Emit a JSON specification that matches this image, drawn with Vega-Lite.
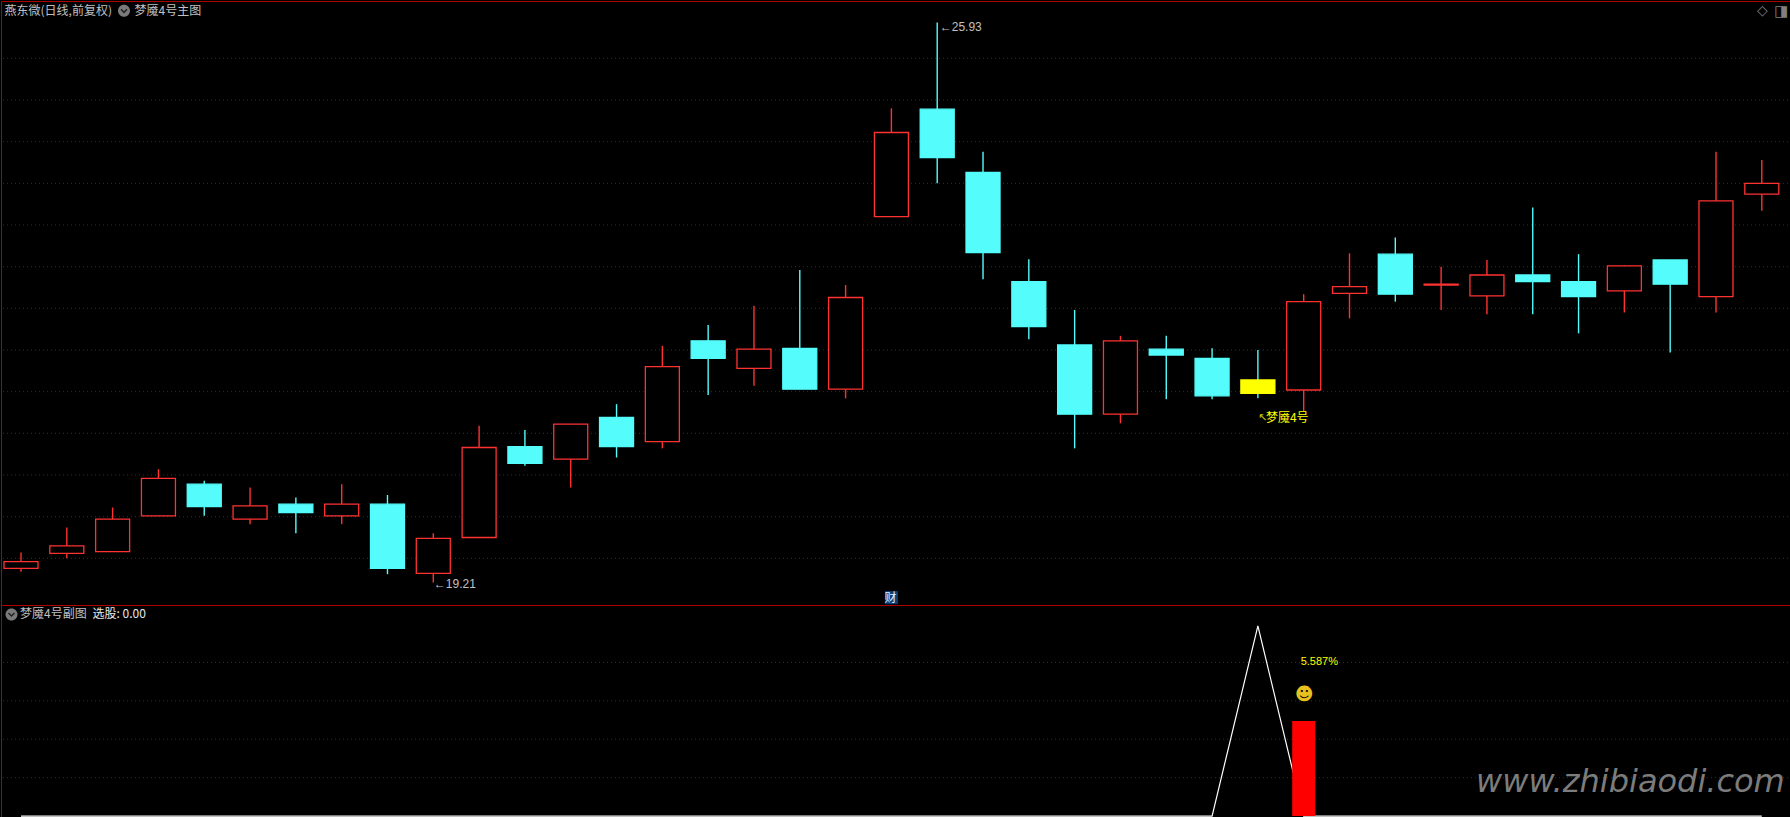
{"$schema":"https://vega.github.io/schema/vega-lite/v6.json","background":"#000000","padding":0,"bounds":"flush","spacing":0,"config":{"view":{"stroke":"#b00000","fill":"#000000"},"text":{"font":"Noto Sans CJK SC"}},"datasets":{"candles":[{"i":0,"high":19.57,"open":19.38,"close":19.46,"low":19.34,"kind":"up"},{"i":1,"high":19.87,"open":19.56,"close":19.65,"low":19.5,"kind":"up"},{"i":2,"high":20.11,"open":19.58,"close":19.97,"low":19.58,"kind":"up"},{"i":3,"high":20.57,"open":20.01,"close":20.46,"low":20.01,"kind":"up"},{"i":4,"high":20.43,"open":20.39,"close":20.12,"low":20.01,"kind":"down"},{"i":5,"high":20.35,"open":19.97,"close":20.13,"low":19.91,"kind":"up"},{"i":6,"high":20.23,"open":20.15,"close":20.05,"low":19.8,"kind":"down"},{"i":7,"high":20.39,"open":20.01,"close":20.15,"low":19.91,"kind":"up"},{"i":8,"high":20.26,"open":20.15,"close":19.38,"low":19.31,"kind":"down"},{"i":9,"high":19.8,"open":19.32,"close":19.74,"low":19.21,"kind":"up"},{"i":10,"high":21.09,"open":19.75,"close":20.83,"low":19.75,"kind":"up"},{"i":11,"high":21.04,"open":20.84,"close":20.64,"low":20.61,"kind":"down"},{"i":12,"high":21.11,"open":20.69,"close":21.11,"low":20.35,"kind":"up"},{"i":13,"high":21.35,"open":21.19,"close":20.84,"low":20.71,"kind":"down"},{"i":14,"high":22.05,"open":20.9,"close":21.8,"low":20.82,"kind":"up"},{"i":15,"high":22.3,"open":22.11,"close":21.9,"low":21.46,"kind":"down"},{"i":16,"high":22.53,"open":21.78,"close":22.01,"low":21.57,"kind":"up"},{"i":17,"high":22.96,"open":22.02,"close":21.53,"low":21.53,"kind":"down"},{"i":18,"high":22.78,"open":21.53,"close":22.63,"low":21.42,"kind":"up"},{"i":19,"high":24.9,"open":23.6,"close":24.61,"low":23.6,"kind":"up"},{"i":20,"high":25.93,"open":24.89,"close":24.31,"low":24.0,"kind":"down"},{"i":21,"high":24.38,"open":24.13,"close":23.17,"low":22.85,"kind":"down"},{"i":22,"high":23.09,"open":22.82,"close":22.28,"low":22.13,"kind":"down"},{"i":23,"high":22.48,"open":22.06,"close":21.23,"low":20.82,"kind":"down"},{"i":24,"high":22.17,"open":21.23,"close":22.11,"low":21.12,"kind":"up"},{"i":25,"high":22.17,"open":22.01,"close":21.94,"low":21.41,"kind":"down"},{"i":26,"high":22.02,"open":21.9,"close":21.45,"low":21.41,"kind":"down"},{"i":27,"high":22.0,"open":21.64,"close":21.48,"low":21.42,"kind":"signal"},{"i":28,"high":22.67,"open":21.52,"close":22.58,"low":21.26,"kind":"up"},{"i":29,"high":23.16,"open":22.68,"close":22.76,"low":22.38,"kind":"up"},{"i":30,"high":23.35,"open":23.15,"close":22.67,"low":22.58,"kind":"down"},{"i":31,"high":23.0,"open":22.78,"close":22.79,"low":22.48,"kind":"up"},{"i":32,"high":23.08,"open":22.65,"close":22.9,"low":22.43,"kind":"up"},{"i":33,"high":23.71,"open":22.9,"close":22.82,"low":22.43,"kind":"down"},{"i":34,"high":23.15,"open":22.82,"close":22.64,"low":22.2,"kind":"down"},{"i":35,"high":23.02,"open":22.71,"close":23.01,"low":22.45,"kind":"up"},{"i":36,"high":23.08,"open":23.08,"close":22.79,"low":21.97,"kind":"down"},{"i":37,"high":24.38,"open":22.64,"close":23.79,"low":22.45,"kind":"up"},{"i":38,"high":24.28,"open":23.87,"close":24.0,"low":23.67,"kind":"up"}],"indicator":[{"i":0,"v":0},{"i":1,"v":0},{"i":2,"v":0},{"i":3,"v":0},{"i":4,"v":0},{"i":5,"v":0},{"i":6,"v":0},{"i":7,"v":0},{"i":8,"v":0},{"i":9,"v":0},{"i":10,"v":0},{"i":11,"v":0},{"i":12,"v":0},{"i":13,"v":0},{"i":14,"v":0},{"i":15,"v":0},{"i":16,"v":0},{"i":17,"v":0},{"i":18,"v":0},{"i":19,"v":0},{"i":20,"v":0},{"i":21,"v":0},{"i":22,"v":0},{"i":23,"v":0},{"i":24,"v":0},{"i":25,"v":0},{"i":26,"v":0},{"i":27,"v":9.9},{"i":28,"v":0},{"i":29,"v":0},{"i":30,"v":0},{"i":31,"v":0},{"i":32,"v":0},{"i":33,"v":0},{"i":34,"v":0},{"i":35,"v":0},{"i":36,"v":0},{"i":37,"v":0},{"i":38,"v":0}]},"vconcat":[{"width":1789,"height":604,"encoding":{"x":{"field":"i","type":"ordinal","axis":null,"scale":{"type":"band","domain":[0,1,2,3,4,5,6,7,8,9,10,11,12,13,14,15,16,17,18,19,20,21,22,23,24,25,26,27,28,29,30,31,32,33,34,35,36,37,38],"range":[-2.9,1783.7],"paddingInner":0,"paddingOuter":0,"round":false}},"y":{"field":"price","type":"quantitative","axis":null,"scale":{"domain":[18.94,26.188],"nice":false,"zero":false}}},"layer":[{"data":{"values":[{"price":25.5},{"price":25},{"price":24.5},{"price":24},{"price":23.5},{"price":23},{"price":22.5},{"price":22},{"price":21.5},{"price":21},{"price":20.5},{"price":20},{"price":19.5}]},"mark":{"type":"rule","color":"#a00000","strokeDash":[1,3],"strokeWidth":1},"encoding":{"x":{"value":2},"x2":{"value":1788}}},{"data":{"name":"candles"},"mark":{"type":"rule","strokeWidth":1.4},"encoding":{"y":{"field":"high","type":"quantitative"},"y2":{"field":"low"},"color":{"field":"kind","type":"nominal","legend":null,"scale":{"domain":["up","down","signal"],"range":["#ff3232","#54fcfc","#54fcfc"]}}}},{"data":{"name":"candles"},"mark":{"type":"bar","size":34,"strokeWidth":1.3},"encoding":{"y":{"field":"open","type":"quantitative"},"y2":{"field":"close"},"fill":{"field":"kind","type":"nominal","legend":null,"scale":{"domain":["up","down","signal"],"range":["#000000","#54fcfc","#ffff00"]}},"stroke":{"field":"kind","type":"nominal","legend":null,"scale":{"domain":["up","down","signal"],"range":["#ff3232","#54fcfc","#ffff00"]}}}},{"data":{"values":[{"i":0,"price":26.07,"label":"燕东微(日线,前复权)"}]},"mark":{"type":"text","align":"left","baseline":"middle","dx":-16.5,"fontSize":12,"color":"#c0c0c0"},"encoding":{"text":{"field":"label"}}},{"data":{"values":[{"i":0,"price":26.07}]},"mark":{"type":"point","filled":true,"size":4,"shape":"M97,0a6,6 0 1,0 12,0a6,6 0 1,0 -12,0Z","color":"#7a7a7a","opacity":1},"encoding":{}},{"data":{"values":[{"i":0,"price":26.07}]},"mark":{"type":"point","filled":false,"size":4,"shape":"M100,-1.5L103,1.5L106,-1.5","color":"#222222","strokeWidth":1.5,"opacity":1},"encoding":{}},{"data":{"values":[{"i":0,"price":26.07,"label":"梦魇4号主图"}]},"mark":{"type":"text","align":"left","baseline":"middle","dx":113.5,"fontSize":12,"color":"#c0c0c0"},"encoding":{"text":{"field":"label"}}},{"data":{"values":[{"i":38,"price":26.07,"label":"◇"}]},"mark":{"type":"text","align":"center","baseline":"middle","dx":0.5,"font":"DejaVu Sans","fontSize":14,"color":"#808080"},"encoding":{"text":{"field":"label"}}},{"data":{"values":[{"i":38,"price":26.07,"label":"◨"}]},"mark":{"type":"text","align":"center","baseline":"middle","dx":19.5,"font":"DejaVu Sans","fontSize":15,"color":"#808080"},"encoding":{"text":{"field":"label"}}},{"data":{"values":[{"i":20,"price":25.876,"label":"←25.93"}]},"mark":{"type":"text","align":"left","baseline":"middle","dx":2.5,"font":"Liberation Sans","fontSize":12,"color":"#c0c0c0"},"encoding":{"text":{"field":"label"}}},{"data":{"values":[{"i":9,"price":19.19,"label":"←19.21"}]},"mark":{"type":"text","align":"left","baseline":"middle","dx":0.5,"font":"Liberation Sans","fontSize":12,"color":"#c0c0c0"},"encoding":{"text":{"field":"label"}}},{"data":{"values":[{"i":27,"price":21.18,"label":"↖"}]},"mark":{"type":"text","align":"left","baseline":"middle","dx":0,"font":"DejaVu Sans","fontSize":11,"color":"#c8c800"},"encoding":{"text":{"field":"label"}}},{"data":{"values":[{"i":27,"price":21.18,"label":"梦魇4号"}]},"mark":{"type":"text","align":"left","baseline":"middle","dx":8,"fontSize":12,"color":"#ffff00"},"encoding":{"text":{"field":"label"}}},{"data":{"values":[{"i":19,"high":19.107,"low":18.95}]},"mark":{"type":"bar","size":13,"color":"#0a3f78"},"encoding":{"y":{"field":"high","type":"quantitative"},"y2":{"field":"low"}}},{"data":{"values":[{"i":19,"price":19.03,"label":"财"}]},"mark":{"type":"text","align":"center","baseline":"middle","dx":-1,"fontSize":12,"color":"#e0f0ff"},"encoding":{"text":{"field":"label"}}}]},{"width":1789,"height":213,"encoding":{"x":{"field":"i","type":"ordinal","axis":null,"scale":{"type":"band","domain":[0,1,2,3,4,5,6,7,8,9,10,11,12,13,14,15,16,17,18,19,20,21,22,23,24,25,26,27,28,29,30,31,32,33,34,35,36,37,38],"range":[-2.9,1783.7],"paddingInner":0,"paddingOuter":0,"round":false}},"y":{"field":"v","type":"quantitative","axis":null,"scale":{"domain":[-0.1,10.99],"nice":false,"zero":false}}},"layer":[{"data":{"values":[{"v":2},{"v":4},{"v":6},{"v":8}]},"mark":{"type":"rule","color":"#a00000","strokeDash":[1,3],"strokeWidth":1},"encoding":{"x":{"value":2},"x2":{"value":1788}}},{"data":{"name":"indicator"},"mark":{"type":"line","color":"#ffffff","strokeWidth":1.2},"encoding":{}},{"data":{"values":[{"i":28,"v":4.95}]},"mark":{"type":"bar","size":23,"color":"#ff0000"},"encoding":{}},{"data":{"values":[{"i":0,"v":10.5}]},"mark":{"type":"point","filled":true,"size":4,"shape":"M-15.5,0a6,6 0 1,0 12,0a6,6 0 1,0 -12,0Z","color":"#7a7a7a","opacity":1},"encoding":{}},{"data":{"values":[{"i":0,"v":10.5}]},"mark":{"type":"point","filled":false,"size":4,"shape":"M-12.5,-1.5L-9.5,1.5L-6.5,-1.5","color":"#222222","strokeWidth":1.5,"opacity":1},"encoding":{}},{"data":{"values":[{"i":0,"v":10.5,"label":"梦魇4号副图"}]},"mark":{"type":"text","align":"left","baseline":"middle","dx":-1,"fontSize":12,"color":"#c0c0c0"},"encoding":{"text":{"field":"label"}}},{"data":{"values":[{"i":0,"v":10.5,"label":"选股: 0.00"}]},"mark":{"type":"text","align":"left","baseline":"middle","dx":71.5,"fontSize":12,"color":"#e8e8e8"},"encoding":{"text":{"field":"label"}}},{"data":{"values":[{"i":28,"v":8.02,"label":"5.587%"}]},"mark":{"type":"text","align":"left","baseline":"middle","dx":-3,"font":"Liberation Sans","fontSize":11,"color":"#ffff00"},"encoding":{"text":{"field":"label"}}},{"data":{"values":[{"i":28,"v":6.3,"label":"☻"}]},"mark":{"type":"text","align":"center","baseline":"middle","dx":0.5,"font":"DejaVu Sans","fontSize":18,"color":"#e8c020"},"encoding":{"text":{"field":"label"}}},{"data":{"values":[{"i":38,"v":1.75,"label":"www.zhibiaodi.com"}]},"mark":{"type":"text","align":"right","baseline":"middle","dx":23,"font":"DejaVu Sans","fontStyle":"italic","fontSize":32,"color":"#7c7c7c"},"encoding":{"text":{"field":"label"}}}]}]}
